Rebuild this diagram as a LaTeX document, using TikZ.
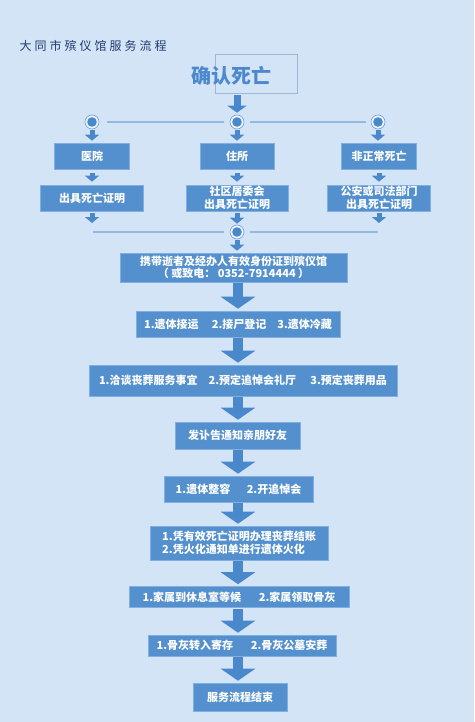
\documentclass[tikz,border=0pt]{standalone}
\usepackage{fontspec}
\newfontfamily\cjk{Noto Sans CJK SC}
\newfontfamily\cjktitle{Noto Sans CJK SC}[LetterSpace=25]
\usetikzlibrary{arrows.meta}
\definecolor{bgblue}{RGB}{210,228,246}
\definecolor{boxblue}{RGB}{84,144,206}
\definecolor{boxedge}{RGB}{128,175,224}
\definecolor{arrowblue}{RGB}{74,136,204}
\definecolor{linkblue}{RGB}{150,184,220}
\definecolor{headblue}{RGB}{76,136,204}
\definecolor{titlenavy}{RGB}{36,58,110}
\definecolor{framegray}{RGB}{160,182,210}
\tikzset{
  stepbox/.style={fill=boxblue, draw=boxedge, line width=0.6pt, text=white,
    font=\cjk\bfseries\fontsize{11}{12.5}\selectfont, align=center,
    inner sep=0pt, minimum height=26pt},
  bigarrow/.style={draw=arrowblue, line width=10pt, -{Triangle[width=34pt,length=12pt]},
    shorten <=1pt, shorten >=2pt},
  midarrow/.style={draw=arrowblue, line width=7pt, -{Triangle[width=19pt,length=7pt]}},
  smallarrow/.style={draw=arrowblue, line width=5pt, -{Triangle[width=14pt,length=6pt]}},
  dot/.style={circle, minimum size=14pt, inner sep=0pt, fill=white!55!bgblue,
    draw=arrowblue!80, line width=0.6pt,
    path picture={\fill[arrowblue] (path picture bounding box.center) circle (4.8pt);}},
  link/.style={draw=linkblue, line width=1.2pt},
}
\begin{document}
\begin{tikzpicture}[x=1pt,y=-1pt]
    \fill[bgblue] (0,0) rectangle (474,722);
    \node[font=\cjktitle\fontsize{12}{14}\selectfont, text=titlenavy, anchor=west] (title) at (16,46) {大同市殡仪馆服务流程};
    \draw[framegray, line width=0.6pt] (215,54) rectangle (297,93);
    \node[font=\cjk\bfseries\fontsize{20}{24}\selectfont, text=headblue] (confirm) at (231,76) {确认死亡};
    \node[dot] (c1) at (92,122) {};
    \node[dot] (c2) at (237,122) {};
    \node[dot] (c3) at (378,122) {};
    \node[stepbox, minimum width=75pt] (hosp) at (92,156) {医院};
    \node[stepbox, minimum width=74pt] (home) at (237,156) {住所};
    \node[stepbox, minimum width=75pt] (odd) at (379,156) {非正常死亡};
    \node[stepbox, minimum width=103pt] (certa) at (92,198) {出具死亡证明};
    \node[stepbox, minimum width=102pt] (certb) at (237,198) {社区居委会\\出具死亡证明};
    \node[stepbox, minimum width=103pt] (certc) at (379,198) {公安或司法部门\\出具死亡证明};
    \node[dot] (c4) at (237,232) {};
    \coordinate (joinl) at (93,232);
    \coordinate (joinr) at (378,232);
    \coordinate (axis) at (238,0);
    \node[stepbox, minimum width=227pt, minimum height=29pt] (b1) at (233.5,267.5) {携带逝者及经办人有效身份证到殡仪馆\\（ 或致电： 0352-7914444 ）};
    \node[stepbox, minimum width=204pt] (b2) at (238,324) {1.遗体接运\hspace{1.2em}2.接尸登记\hspace{1em}3.遗体冷藏};
    \node[stepbox, minimum width=308pt, minimum height=31pt] (b3) at (243,380.5) {1.洽谈丧葬服务事宜\hspace{1em}2.预定追悼会礼厅\hspace{1.3em}3.预定丧葬用品};
    \node[stepbox, minimum width=125pt, minimum height=27pt] (b4) at (237.5,435.5) {发讣告通知亲朋好友};
    \node[stepbox, minimum width=149pt] (b5) at (238.5,489) {1.遗体整容\hspace{1.5em}2.开追悼会};
    \node[stepbox, minimum width=178pt, minimum height=34pt, align=left] (b6) at (239,543) {1.凭有效死亡证明办理丧葬结账\\2.凭火化通知单进行遗体火化};
    \node[stepbox, minimum width=220pt, minimum height=21pt] (b7) at (239,597) {1.家属到休息室等候\hspace{1.6em}2.家属领取骨灰};
    \node[stepbox, minimum width=188pt, minimum height=21pt] (b8) at (242,645.5) {1.骨灰转入寄存\hspace{1.6em}2.骨灰公墓安葬};
    \node[stepbox, minimum width=94pt, minimum height=28pt] (b9) at (240,697) {服务流程结束};
    \draw[midarrow, shorten <=6pt, shorten >=2pt] (confirm.south -| c2) -- (c2.north);
    \draw[link, shorten <=8pt, shorten >=6pt] (c1) -- (c2);
    \draw[link, shorten <=6pt, shorten >=5pt] (c2) -- (c3);
    \draw[link, shorten >=6pt] (joinl) -- (c4);
    \draw[link, shorten <=6pt] (c4) -- (joinr);
    \draw[smallarrow, shorten <=1pt, shorten >=2pt] (c1.south) -- (c1 |- hosp.north);
    \draw[smallarrow, shorten <=1pt, shorten >=2pt] (c2.south) -- (c2 |- home.north);
    \draw[smallarrow, shorten <=1pt, shorten >=2pt] (c3.south) -- (c3 |- odd.north);
    \draw[smallarrow, shorten <=4pt, shorten >=3pt] (hosp) -- (certa);
    \draw[smallarrow, shorten <=4pt, shorten >=3pt] (home) -- (certb);
    \draw[smallarrow, shorten <=4pt, shorten >=3pt] (odd) -- (certc);
    \draw[smallarrow, shorten <=2pt, shorten >=9pt] (certa.south) -- (certa.south |- joinl);
    \draw[smallarrow, shorten <=2pt, shorten >=1pt] (certb.south) -- (c4.north);
    \draw[smallarrow, shorten <=2pt, shorten >=9pt] (certc.south) -- (certc.south |- joinr);
    \draw[smallarrow, shorten <=1pt, shorten >=2pt] (c4.south) -- (c4 |- b1.north);
    \draw[bigarrow] (b1.south -| axis) -- (b2.north -| axis);
    \draw[bigarrow] (b2.south -| axis) -- (b3.north -| axis);
    \draw[bigarrow] (b3.south -| axis) -- (b4.north -| axis);
    \draw[bigarrow] (b4.south -| axis) -- (b5.north -| axis);
    \draw[bigarrow] (b5.south -| axis) -- (b6.north -| axis);
    \draw[bigarrow] (b6.south -| axis) -- (b7.north -| axis);
    \draw[bigarrow] (b7.south -| axis) -- (b8.north -| axis);
    \draw[bigarrow] (b8.south -| axis) -- (b9.north -| axis);
\end{tikzpicture}
\end{document}
